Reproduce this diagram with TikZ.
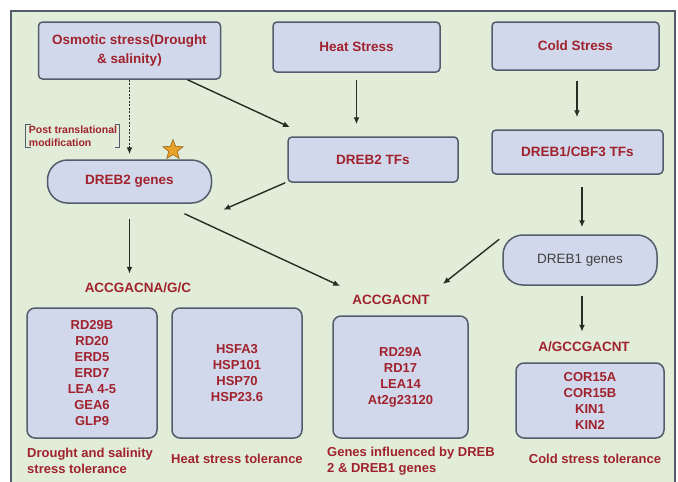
\documentclass[tikz,border=0pt]{standalone}
\usepackage{fontspec}
\setmainfont{Liberation Sans}
\usetikzlibrary{shapes.geometric,arrows.meta}
\definecolor{bggreen}{RGB}{225,237,216}
\definecolor{boxfill}{RGB}{210,216,236}
\definecolor{boxline}{RGB}{82,92,106}
\definecolor{txtred}{RGB}{160,34,44}
\definecolor{arrcol}{RGB}{36,46,36}
\definecolor{starfill}{RGB}{232,162,42}
\definecolor{starline}{RGB}{150,100,30}
\begin{document}
\begin{tikzpicture}[x=1pt, y=-1pt,
    box/.style = {shape=rectangle, draw=boxline, line width=1.5pt, fill=boxfill, rounded corners=4pt,
      align=center, text=txtred, inner sep=0pt, font=\bfseries\fontsize{13.5}{19}\selectfont},
    genes/.style = {box, rounded corners=8pt, font=\bfseries\fontsize{13}{16}\selectfont},
    pill/.style = {box, rounded corners=20pt},
    motif/.style = {text=txtred, inner sep=1pt, font=\bfseries\fontsize{13.5}{15}\selectfont},
    result/.style = {text=txtred, inner sep=0pt, align=left, font=\bfseries\fontsize{13}{16}\selectfont},
    link/.style = {draw=arrcol, line width=1.4pt, -{Latex[length=7pt,width=6pt]}}]
  \useasboundingbox (0,0) rectangle (678,482);
  \fill[bggreen] (11,11) rectangle (675,482);
  \draw[boxline, line width=1.2pt] (11,482) -- (11,11) -- (675,11) -- (675,482);

  % stresses
  \node[box, minimum width=182pt, minimum height=57pt] (osm) at (129.5,50.5) {Osmotic stress(Drought\\ \& salinity)};
  \node[box, minimum width=167pt, minimum height=50pt] (heat) at (356.5,47) {Heat Stress};
  \node[box, minimum width=167pt, minimum height=48pt] (cold) at (575.5,46) {Cold Stress};

  % transcription factors and genes
  \node[box, minimum width=170pt, minimum height=45pt] (dtf) at (373,159.5) {DREB2 TFs};
  \node[box, minimum width=171pt, minimum height=44pt] (ctf) at (577.5,152) {DREB1/CBF3 TFs};
  \node[pill, minimum width=164pt, minimum height=43pt] (dgen) at (129.5,181.5) {DREB2 genes};
  \node[pill, minimum width=154pt, minimum height=50pt, text=black!75, font=\fontsize{13.5}{16}\selectfont] (cgen) at (580,260) {DREB1 genes};

  \node[align=left, text=txtred, inner sep=1pt, font=\bfseries\fontsize{10.5}{12.5}\selectfont] (ptm) at (73,136) {Post translational\\modification};
  \draw[boxline, line width=1pt] ([xshift=3pt]ptm.north west) -- ([xshift=-2pt]ptm.north west) -- ([xshift=-2pt]ptm.south west) -- ([xshift=3pt]ptm.south west);
  \draw[boxline, line width=1pt] ([xshift=-3pt]ptm.north east) -- ([xshift=1pt]ptm.north east) -- ([xshift=1pt]ptm.south east) -- ([xshift=-3pt]ptm.south east);
  \node[star, star points=5, star point ratio=2.3, minimum size=21pt, inner sep=0pt, fill=starfill, draw=starline, line width=0.6pt] (star) at (173,150) {};

  % motifs
  \node[motif] (m1) at (138,288) {ACCGACNA/G/C};
  \node[motif] (m2) at (391,300) {ACCGACNT};
  \node[motif] (m3) at (584,347) {A/GCCGACNT};

  % target genes
  \node[genes, minimum width=130pt, minimum height=130pt] (bdr) at (92,373) {RD29B\\RD20\\ERD5\\ERD7\\LEA 4-5\\GEA6\\GLP9};
  \node[genes, minimum width=130pt, minimum height=130pt] (bheat) at (237,373) {HSFA3\\HSP101\\HSP70\\HSP23.6};
  \node[genes, minimum width=135pt, minimum height=122pt] (bmid) at (400.5,377) {RD29A\\RD17\\LEA14\\At2g23120};
  \node[genes, minimum width=148pt, minimum height=75pt] (bcold) at (590,400.5) {COR15A\\COR15B\\KIN1\\KIN2};

  % tolerance
  \node[result, anchor=west] (rdr) at (27,461) {Drought and salinity\\stress tolerance};
  \node[result] (rheat) at (237,459) {Heat stress tolerance};
  \node[result, anchor=west] (rmid) at (327,461) {Genes influenced by DREB\\2 \& DREB1 genes};
  \node[result] (rcold) at (595,459) {Cold stress tolerance};

  % arrows
  \draw[link, dash pattern=on 2pt off 1.5pt, shorten >=5pt] (osm.south) -- (dgen.north);
  \draw[link] ([xshift=58pt]osm.south) -- ([xshift=-83pt,yshift=9pt]dtf.north);
  \draw[link, shorten <=7pt, shorten >=12pt] (heat.south) -- (heat.south |- dtf.north);
  \draw[link, shorten <=10pt, shorten >=12pt] ([xshift=1.5pt]cold.south) -- ([xshift=1.5pt]cold.south |- ctf.north);
  \draw[link] ([xshift=-2pt]dtf.south west) -- ([xshift=11pt,yshift=-6pt]dgen.south east);
  \draw[link, shorten <=15pt, shorten >=8pt] (dgen.south) -- (dgen.south |- m1.north);
  \draw[link] ([xshift=55pt,yshift=-10pt]dgen.south) -- ([xshift=-11pt,yshift=8pt]m2.north west);
  \draw[link, shorten <=12pt, shorten >=7pt] ([xshift=4.5pt]ctf.south) -- ([xshift=4.5pt]ctf.south |- cgen.north);
  \draw[link] ([xshift=-3pt,yshift=-5pt]cgen.north west) -- ([xshift=12pt,yshift=10pt]m2.north east);
  \draw[link, shorten <=10pt, shorten >=9pt] ([xshift=2pt]cgen.south) -- ([xshift=2pt]cgen.south |- m3.north);
\end{tikzpicture}
\end{document}
